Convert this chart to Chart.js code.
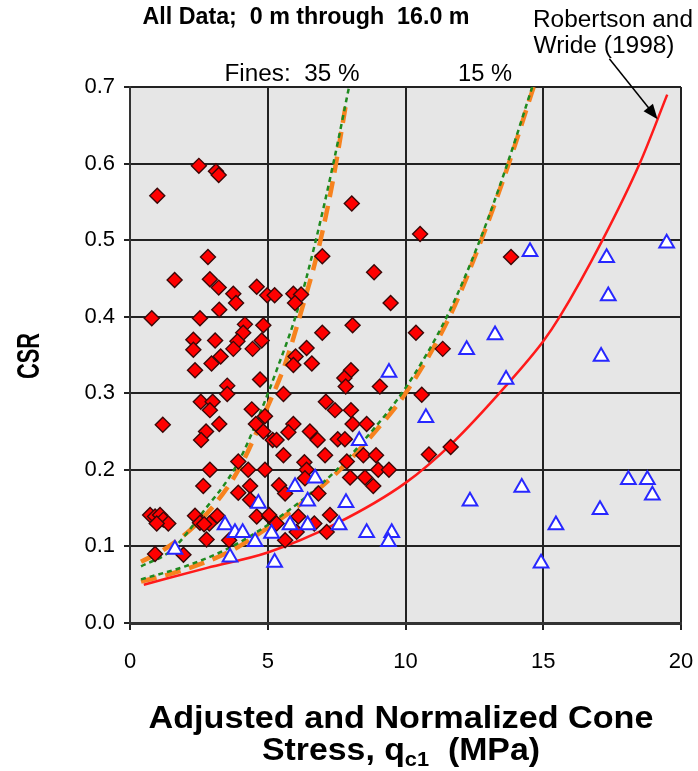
<!DOCTYPE html>
<html lang="en">
<head>
    <meta charset="UTF-8">
    <title>CSR vs Adjusted and Normalized Cone Stress</title>
    <script src="https://cdn.jsdelivr.net/npm/chart.js@4.4.0/dist/chart.umd.min.js"></script>
    <style>
        body { margin: 0; background: #fff; }
        #wrap { width: 698px; height: 771px; position: relative; }
    </style>
</head>
<body>
    <div id="wrap"><canvas id="csrChart"></canvas></div>

    <script>
        // red diamonds (liquefied / field data)
        const diamondX = [2.50, 3.12, 3.22, 0.99, 2.83, 1.62, 2.90, 3.22, 3.75, 3.85, 3.24, 4.60, 4.98, 5.25,
            0.79, 2.54, 4.17, 4.84, 4.11, 2.30, 3.09, 2.30, 3.90, 3.75, 4.78, 4.45, 3.29, 2.96, 2.36,
            4.72, 3.53, 3.53, 2.57, 3.00, 2.90, 4.42, 1.19, 3.24, 2.76, 2.58, 4.57, 4.84, 5.18, 4.90,
            3.93, 4.29, 4.90, 2.90, 2.66, 3.93, 4.36, 4.36, 4.60, 5.06, 0.73, 0.91, 1.09, 1.21, 1.39,
            0.97, 2.36, 2.54, 2.88, 3.17, 2.69, 2.78, 3.60, 0.91, 1.94, 8.05, 6.98, 8.86, 9.46, 5.93,
            6.21, 5.99, 8.08, 6.98, 6.41, 6.01, 5.93, 6.60, 8.02, 7.78, 7.83, 9.07, 5.57, 7.11, 7.44,
            8.02, 5.93, 5.75, 5.32, 6.53, 6.81, 8.08, 8.59, 7.54, 7.80, 5.57, 7.08, 8.47, 8.93, 6.33,
            6.41, 6.35, 7.87, 7.99, 8.53, 9.01, 9.40, 8.83, 5.41, 5.63, 6.84, 5.05, 5.32, 6.11, 6.69,
            7.26, 7.14, 6.05, 5.63, 10.38, 11.35, 10.59, 10.85, 11.64, 10.53, 13.83];
        const diamondY = [0.597, 0.590, 0.585, 0.558, 0.478, 0.448, 0.449, 0.438, 0.430, 0.418, 0.409, 0.439, 0.428, 0.428,
            0.398, 0.398, 0.390, 0.389, 0.379, 0.370, 0.369, 0.357, 0.368, 0.358, 0.369, 0.358, 0.348, 0.339, 0.330,
            0.318, 0.310, 0.299, 0.289, 0.289, 0.278, 0.279, 0.259, 0.260, 0.250, 0.239, 0.260, 0.250, 0.239, 0.270,
            0.211, 0.200, 0.200, 0.200, 0.179, 0.170, 0.179, 0.161, 0.139, 0.139, 0.141, 0.139, 0.141, 0.135, 0.130,
            0.130, 0.140, 0.131, 0.130, 0.140, 0.129, 0.109, 0.108, 0.090, 0.089, 0.548, 0.479, 0.458, 0.418, 0.430,
            0.429, 0.418, 0.389, 0.379, 0.359, 0.348, 0.337, 0.339, 0.330, 0.320, 0.309, 0.309, 0.299, 0.289, 0.278,
            0.278, 0.260, 0.249, 0.239, 0.250, 0.239, 0.260, 0.260, 0.240, 0.240, 0.219, 0.219, 0.219, 0.219, 0.210,
            0.200, 0.189, 0.211, 0.190, 0.190, 0.200, 0.200, 0.179, 0.180, 0.169, 0.169, 0.141, 0.130, 0.139, 0.130,
            0.141, 0.119, 0.119, 0.108, 0.379, 0.358, 0.298, 0.220, 0.230, 0.508, 0.478];

        // blue open triangles
        const triangleX = [1.63, 3.45, 3.81, 4.09, 4.54, 3.63, 4.66, 5.14, 5.25, 9.40, 8.32, 5.99, 6.72,
            6.45, 7.84, 5.81, 6.45, 7.59, 8.59, 9.50, 9.38, 13.25, 12.22, 13.65, 10.74, 14.22, 12.34,
            15.46, 14.92, 14.52, 17.30, 19.48, 17.36, 17.10, 18.09, 18.78, 18.96, 17.06];
        const triangleY = [0.096, 0.128, 0.118, 0.118, 0.106, 0.086, 0.156, 0.117, 0.079, 0.327, 0.238, 0.178, 0.189,
            0.159, 0.157, 0.128, 0.128, 0.128, 0.118, 0.118, 0.106, 0.376, 0.357, 0.318, 0.268, 0.177, 0.159,
            0.128, 0.078, 0.485, 0.477, 0.496, 0.427, 0.348, 0.187, 0.187, 0.167, 0.148];

        // Robertson and Wride (1998) curve
        const robertsonX = [0.5, 2.8, 5.0, 7.5, 10.0, 11.7, 13.65, 15.0, 15.6, 17.15, 18.5, 19.5];
        const robertsonY = [0.05, 0.072, 0.092, 0.13, 0.183, 0.235, 0.31, 0.368, 0.4, 0.5, 0.6, 0.69];

        // fines curves: orange dashed and green dotted versions
        const fines35OrangeX = [0.4, 1.2, 2.2, 3.1, 4.0, 5.0, 5.6, 6.2, 6.85, 7.35, 7.85];
        const fines35OrangeY = [0.08, 0.095, 0.122, 0.156, 0.204, 0.283, 0.335, 0.405, 0.49, 0.575, 0.68];
        const fines35GreenX = [0.4, 1.5, 2.8, 3.6, 4.1, 4.9, 5.3, 6.05, 6.72, 7.38, 7.95];
        const fines35GreenY = [0.074, 0.095, 0.152, 0.19, 0.222, 0.29, 0.328, 0.405, 0.496, 0.6, 0.7];
        const fines15OrangeX = [0.4, 2.0, 3.6, 4.9, 6.35, 7.9, 8.9, 10.0, 11.6, 12.75, 13.75, 14.65];
        const fines15OrangeY = [0.054, 0.07, 0.093, 0.122, 0.16, 0.21, 0.25, 0.3, 0.4, 0.5, 0.6, 0.7];
        const fines15GreenX = [0.4, 2.0, 3.6, 5.0, 6.3, 7.5, 8.6, 10.0, 11.5, 12.7, 13.7, 14.6];
        const fines15GreenY = [0.057, 0.074, 0.098, 0.128, 0.162, 0.2, 0.243, 0.307, 0.4, 0.5, 0.6, 0.7];

        function toPoints(xs, ys) {
            return xs.map((x, i) => ({ x: x, y: ys[i] }));
        }

        function curve(xs, ys, color, width, dash) {
            return {
                data: toPoints(xs, ys),
                showLine: true,
                borderColor: color,
                borderWidth: width,
                borderDash: dash,
                pointRadius: 0,
                cubicInterpolationMode: 'monotone'
            };
        }

        const tickFont = "'Liberation Sans', Arial, sans-serif";

        // grey plot area
        const plotBackground = {
            id: 'plotBackground',
            beforeDraw(chart) {
                const a = chart.chartArea;
                const ctx = chart.ctx;
                ctx.save();
                ctx.fillStyle = '#e6e6e6';
                ctx.fillRect(a.left, a.top, a.width, a.height);
                ctx.restore();
            }
        };

        // draws text runs centred on (cx, cy), squeezed to the given width
        function drawRuns(ctx, runs, cx, cy, width) {
            let total = 0;
            runs.forEach(r => { ctx.font = r.font; r.w = ctx.measureText(r.text).width; total += r.w; });
            const k = width ? width / total : 1;
            ctx.save();
            ctx.translate(cx, cy);
            ctx.scale(k, 1);
            ctx.textBaseline = 'middle';
            ctx.textAlign = 'left';
            let x = -total / 2;
            runs.forEach(r => {
                ctx.font = r.font;
                ctx.fillText(r.text, x, r.dy || 0);
                x += r.w;
            });
            ctx.restore();
        }

        const annotations = {
            id: 'annotations',
            afterDraw(chart) {
                const ctx = chart.ctx;
                const xs = chart.scales.x, ys = chart.scales.y;
                const bold = "bold 23px " + tickFont;
                const plain = "23px " + tickFont;
                ctx.save();
                ctx.fillStyle = '#000';

                drawRuns(ctx, [{ text: 'All Data;  0 m through  16.0 m', font: bold }], 306, 18, 327);
                drawRuns(ctx, [{ text: 'Robertson and', font: plain }], 613, 21, 160);
                drawRuns(ctx, [{ text: 'Wride (1998)', font: plain }], 604, 47, 141);
                drawRuns(ctx, [{ text: 'Fines:  35 %', font: plain }], 292, 75, 135);
                drawRuns(ctx, [{ text: '15 %', font: plain }], 485, 75, 54);

                // x axis title, two lines with subscript
                const big = "bold 31px " + tickFont;
                drawRuns(ctx, [{ text: 'Adjusted and Normalized Cone', font: big }], 401, 719, 505);
                drawRuns(ctx, [
                    { text: 'Stress, q', font: big },
                    { text: 'c1', font: "bold 20px " + tickFont, dy: 9 },
                    { text: '  (MPa)', font: big }
                ], 401, 751, 278);

                // y axis title
                ctx.save();
                ctx.translate(30, 356);
                ctx.rotate(-Math.PI / 2);
                drawRuns(ctx, [{ text: 'CSR', font: big }], 0, 0, 46);
                ctx.restore();

                // arrow pointing at the Robertson and Wride curve
                const x1 = xs.getPixelForValue(17.4), y1 = ys.getPixelForValue(0.737);
                const x2 = xs.getPixelForValue(19.15), y2 = ys.getPixelForValue(0.658);
                const ang = Math.atan2(y2 - y1, x2 - x1);
                ctx.strokeStyle = '#000';
                ctx.lineWidth = 1.5;
                ctx.beginPath();
                ctx.moveTo(x1, y1);
                ctx.lineTo(x2 - 10 * Math.cos(ang), y2 - 10 * Math.sin(ang));
                ctx.stroke();
                ctx.beginPath();
                ctx.moveTo(x2, y2);
                ctx.lineTo(x2 - 15 * Math.cos(ang) + 6 * Math.sin(ang), y2 - 15 * Math.sin(ang) - 6 * Math.cos(ang));
                ctx.lineTo(x2 - 15 * Math.cos(ang) - 6 * Math.sin(ang), y2 - 15 * Math.sin(ang) + 6 * Math.cos(ang));
                ctx.closePath();
                ctx.fill();
                ctx.restore();
            }
        };

        new Chart(document.getElementById('csrChart'), {
            type: 'scatter',
            data: {
                datasets: [
                    {
                        data: toPoints(triangleX, triangleY),
                        pointStyle: 'triangle',
                        pointRadius: 8.5,
                        backgroundColor: '#ffffff',
                        borderColor: '#2727ff',
                        borderWidth: 2
                    },
                    {
                        data: toPoints(diamondX, diamondY),
                        pointStyle: 'rectRot',
                        pointRadius: 7.5,
                        backgroundColor: '#ff0000',
                        borderColor: '#3a0808',
                        borderWidth: 1.4
                    },
                    curve(robertsonX, robertsonY, '#ff1a1a', 2.5, []),
                    curve(fines15GreenX, fines15GreenY, '#1f8a1f', 2.5, [5, 4]),
                    curve(fines15OrangeX, fines15OrangeY, '#f7821e', 4.5, [16, 9]),
                    curve(fines35GreenX, fines35GreenY, '#1f8a1f', 2.5, [5, 4]),
                    curve(fines35OrangeX, fines35OrangeY, '#f7821e', 4.5, [16, 9])
                ]
            },
            options: {
                responsive: true,
                maintainAspectRatio: false,
                animation: false,
                events: [],
                layout: { padding: { top: 87, right: 17, left: 0, bottom: 0 } },
                plugins: {
                    legend: { display: false },
                    tooltip: { enabled: false }
                },
                scales: {
                    x: {
                        type: 'linear',
                        min: 0,
                        max: 20,
                        ticks: { stepSize: 5, maxRotation: 0, color: '#000', padding: 19, font: { family: tickFont, size: 22 } },
                        grid: { color: '#222', lineWidth: 2, tickLength: 7 },
                        border: { color: '#333', width: 3 },
                        afterFit(scale) {
                            // fixed band under the plot; no extra side padding for the end labels
                            scale.height = 148;
                            scale.paddingLeft = 0;
                            scale.paddingRight = 0;
                        }
                    },
                    y: {
                        min: 0,
                        max: 0.7,
                        ticks: {
                            stepSize: 0.1,
                            color: '#000',
                            padding: 9,
                            font: { family: tickFont, size: 22 },
                            callback: v => v.toFixed(1)
                        },
                        grid: { color: '#222', lineWidth: 2, tickLength: 6 },
                        border: { color: '#333', width: 2 },
                        afterFit(scale) { scale.width = 130; }
                    }
                }
            },
            plugins: [plotBackground, annotations]
        });
    </script>
</body>
</html>
